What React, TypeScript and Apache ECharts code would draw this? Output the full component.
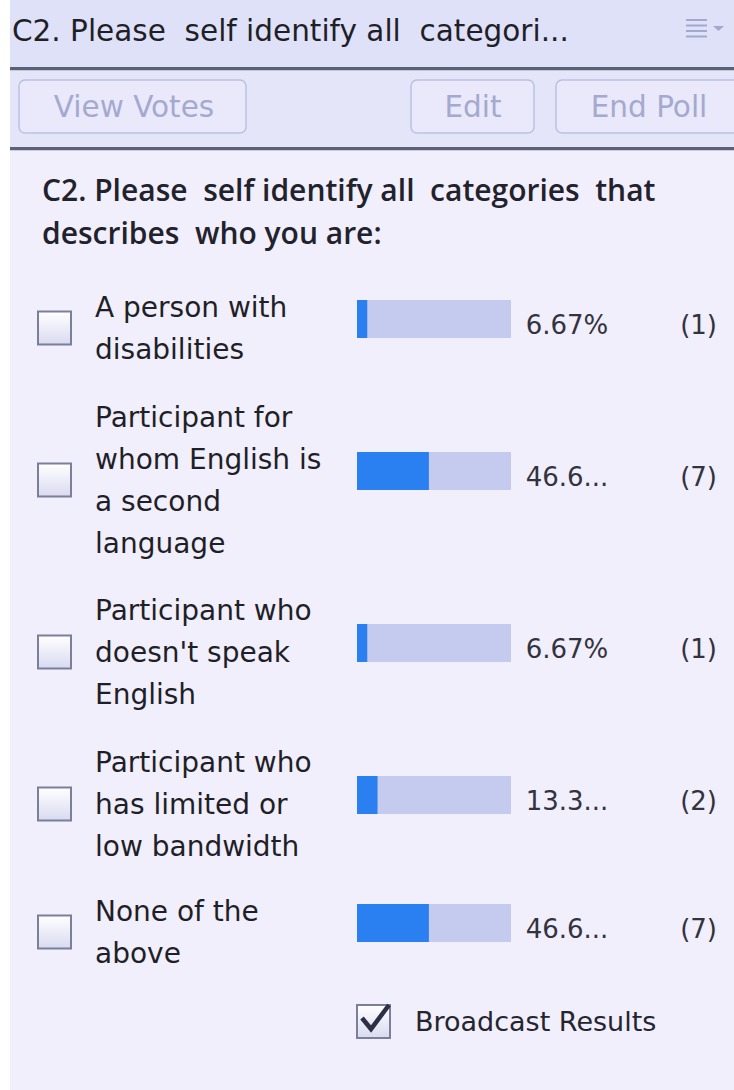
import React, { useEffect, useRef } from "react";
import * as echarts from "echarts";

const panelTitle = "C2. Please  self identify all  categori...";
const questionLines = ["C2. Please  self identify all  categories  that", "describes  who you are:"];
const buttonLabels = ["View Votes", "Edit", "End Poll"];
const categories = [
  "A person with\ndisabilities",
  "Participant for\nwhom English is\na second\nlanguage",
  "Participant who\ndoesn't speak\nEnglish",
  "Participant who\nhas limited or\nlow bandwidth",
  "None of the\nabove",
];
const percents = [6.67, 46.67, 6.67, 13.33, 46.67];
const counts = [1, 7, 1, 2, 7];
const broadcastLabel = "Broadcast Results";

// layout (not data)
const rowTops = [300, 452, 624, 776, 904];
const BAR_LEFT = 357;
const BAR_W = 154;
const BAR_H = 38;
const FONT = "'DejaVu Sans', 'Open Sans', sans-serif";
const FONT_Q = "'Open Sans', 'Noto Sans', sans-serif";

function fmtPct(p: number): string {
  const s = `${p.toFixed(2)}%`;
  return s.length > 5 ? s.slice(0, 4) + "..." : s;
}

function checkbox(x: number, y: number) {
  return {
    type: "rect",
    shape: { x, y, width: 33, height: 33 },
    style: {
      fill: {
        type: "linear", x: 0, y: 0, x2: 0, y2: 1,
        colorStops: [
          { offset: 0, color: "#ffffff" },
          { offset: 1, color: "#d9daf0" },
        ],
      },
      stroke: "#7b7f9c",
      lineWidth: 2,
    },
  };
}

export default function App() {
  const ref = useRef<HTMLDivElement>(null);
  useEffect(() => {
    document.body.style.margin = "0";
    const chart = echarts.init(ref.current!, null, { renderer: "svg" });

    const grids = rowTops.map((t) => ({ left: BAR_LEFT, width: BAR_W, top: t, height: BAR_H }));
    const xAxes = rowTops.map((_, i) => ({
      type: "value", gridIndex: i, min: 0, max: 100, show: false,
    }));
    const yAxes = categories.map((c, i) => ({
      type: "category",
      gridIndex: i,
      data: [c],
      show: false,
    }));
    const series = percents.map((p, i) => ({
      type: "bar",
      xAxisIndex: i,
      yAxisIndex: i,
      data: [p],
      barWidth: BAR_H,
      showBackground: true,
      backgroundStyle: { color: "#c5cbee" },
      itemStyle: { color: "#2a80f1" },
      label: {
        show: true,
        position: [166, BAR_H / 2 + 6],
        verticalAlign: "middle",
        formatter: () => `{p|${fmtPct(p)}}{c|(${counts[i]})}`,
        rich: {
          p: { width: 88, fontSize: 26, color: "#33333f", fontFamily: FONT, align: "center" },
          c: { width: 106, fontSize: 26, color: "#33333f", fontFamily: FONT, align: "right" },
        },
      },
    }));

    const graphics: any[] = [
      { type: "rect", shape: { x: 0, y: 0, width: 734, height: 1090 }, style: { fill: "#ffffff" } },
      { type: "rect", shape: { x: 10, y: 0, width: 724, height: 1090 }, style: { fill: "#f1effc" } },
      { type: "rect", shape: { x: 10, y: 0, width: 724, height: 68 }, style: { fill: "#dfe1f8" } },
      { type: "rect", shape: { x: 10, y: 70, width: 724, height: 78 }, style: { fill: "#e5e5f9" } },
      { type: "rect", shape: { x: 10, y: 67, width: 724, height: 3 }, style: { fill: "#5e6174" } },
      { type: "rect", shape: { x: 10, y: 70, width: 724, height: 1 }, style: { fill: "#c3c6e0" } },
      { type: "rect", shape: { x: 10, y: 147, width: 724, height: 3 }, style: { fill: "#5e6174" } },
      { type: "rect", shape: { x: 10, y: 150, width: 724, height: 1 }, style: { fill: "#c9cbe4" } },
      {
        type: "text", x: 12, y: 31,
        style: { text: panelTitle, fontSize: 29.5, fill: "#1f1f28", fontFamily: FONT, textVerticalAlign: "middle" },
      },
      // menu icon
      ...[20, 25.5, 31, 36.5].map((y) => ({
        type: "line", shape: { x1: 686, y1: y, x2: 707, y2: y }, style: { stroke: "#a3a8cc", lineWidth: 2 },
      })),
      { type: "polygon", shape: { points: [[713, 26], [724, 26], [718.5, 31]] }, style: { fill: "#a3a8cc" } },
    ];

    const btns = [
      { x: 19, w: 227 },
      { x: 411, w: 123 },
      { x: 556, w: 210 },
    ];
    const btnCenters = [134, 473, 649];
    buttonLabels.forEach((b, i) => {
      graphics.push({
        type: "rect",
        shape: { x: btns[i].x, y: 80, width: btns[i].w, height: 53, r: 6 },
        style: { fill: "#e9e9fb", stroke: "#bcc0e3", lineWidth: 1.5 },
      });
      graphics.push({
        type: "text", x: btnCenters[i], y: 107,
        style: { text: b, fontSize: 29.5, fill: "#a5a9cf", fontFamily: FONT, textAlign: "center", textVerticalAlign: "middle" },
      });
    });

    questionLines.forEach((q, i) => {
      graphics.push({
        type: "text", x: 42, y: 189 + i * 43,
        style: { text: q, fontSize: 30, fontWeight: 600, fill: "#22222c", fontFamily: FONT_Q, textVerticalAlign: "middle" },
      });
    });

    categories.forEach((c, i) => {
      const cy = rowTops[i] + BAR_H / 2 + 9;
      graphics.push({
        type: "text", x: 95, y: cy,
        style: { text: c, fontSize: 28, lineHeight: 42, fill: "#1f1f28", fontFamily: FONT, textVerticalAlign: "middle" },
      });
      graphics.push(checkbox(38, cy - 16.5));
    });

    // broadcast results
    graphics.push(checkbox(357, 1005));
    graphics.push({
      type: "polyline",
      shape: { points: [[362, 1018], [371, 1029], [389, 1005]] },
      style: { stroke: "#2c2f45", lineWidth: 4.5, fill: null },
    });
    graphics.push({
      type: "text", x: 415, y: 1021,
      style: { text: broadcastLabel, fontSize: 27, fill: "#25252f", fontFamily: FONT, textVerticalAlign: "middle" },
    });

    chart.setOption({
      animation: false,
      backgroundColor: "#ffffff",
      grid: grids,
      xAxis: xAxes,
      yAxis: yAxes,
      series,
      graphic: { elements: graphics },
    });
    return () => chart.dispose();
  }, []);
  return <div ref={ref} style={{ width: 734, height: 1090 }} />;
}
